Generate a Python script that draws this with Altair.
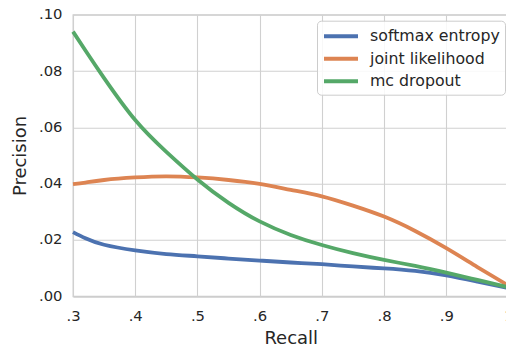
import altair as alt
import pandas as pd

# Recall sample points shared by all three curves
recall = [0.30, 0.32, 0.35, 0.40, 0.45, 0.50, 0.55, 0.60, 0.65, 0.70,
          0.75, 0.80, 0.85, 0.90, 0.95, 1.00]

softmax_entropy = [0.0228, 0.0206, 0.0183, 0.0163, 0.0150, 0.0142, 0.0134, 0.0127,
                   0.0120, 0.0114, 0.0106, 0.0099, 0.0090, 0.0074, 0.0052, 0.0029]
joint_likelihood = [0.0398, 0.0404, 0.0413, 0.0422, 0.0426, 0.0422, 0.0413, 0.0399,
                    0.0378, 0.0355, 0.0322, 0.0283, 0.0232, 0.0171, 0.0104, 0.0038]
mc_dropout = [0.0940, 0.0873, 0.0775, 0.0626, 0.0513, 0.0415, 0.0332, 0.0266,
              0.0218, 0.0182, 0.0153, 0.0129, 0.0108, 0.0084, 0.0058, 0.0032]

methods = ["softmax entropy", "joint likelihood", "mc dropout"]
colors = ["#4c72b0", "#dd8452", "#55a868"]

rows = []
for name, vals in zip(methods, [softmax_entropy, joint_likelihood, mc_dropout]):
    for r, p in zip(recall, vals):
        rows.append({"Recall": r, "Precision": p, "method": name})
df = pd.DataFrame(rows)

text_color = "#262626"
grid_color = "#d0d0d0"

chart = alt.Chart(df).mark_line(strokeWidth=3.8, interpolate="natural").encode(
    x=alt.X(
        "Recall:Q",
        scale=alt.Scale(domain=[0.3, 1.0], nice=False, zero=False),
        axis=alt.Axis(
            values=[0.3, 0.4, 0.5, 0.6, 0.7, 0.8, 0.9, 1.0],
            labelExpr="datum.value == 1 ? '1' : replace(format(datum.value, '.1f'), '0.', '.')",
            title="Recall",
        ),
    ),
    y=alt.Y(
        "Precision:Q",
        scale=alt.Scale(domain=[0.0, 0.1], nice=False),
        axis=alt.Axis(
            values=[0.0, 0.02, 0.04, 0.06, 0.08, 0.10],
            labelExpr="replace(format(datum.value, '.2f'), '0.', '.')",
            title="Precision",
        ),
    ),
    color=alt.Color(
        "method:N",
        scale=alt.Scale(domain=methods, range=colors),
        legend=alt.Legend(
            title=None,
            orient="none",
            legendX=244,
            legendY=6,
            # a long horizontal stroke starting at the entry's left edge
            symbolType="M-1,0L3,0",
            symbolSize=289,
            symbolStrokeWidth=4,
            labelFontSize=15.8,
            labelColor=text_color,
            labelFont="DejaVu Sans",
            labelOffset=27,
            fillColor="rgba(255,255,255,0.85)",
            strokeColor="#cccccc",
            cornerRadius=4,
            padding=5,
            rowPadding=3.5,
        ),
    ),
    order=alt.Order("method_order:Q"),
).transform_calculate(
    method_order="indexof(['softmax entropy','joint likelihood','mc dropout'], datum.method)"
).properties(
    width=435.5,
    height=281.6,
    autosize=alt.AutoSizeParams(type="none"),
    padding={"left": 73, "top": 14.7, "right": -2.5, "bottom": 48},
).configure_view(
    stroke="#cccccc",
    strokeWidth=1.3,
).configure_axis(
    grid=True,
    gridColor=grid_color,
    gridWidth=1.1,
    domain=False,
    ticks=False,
    labelFlush=False,
    labelFont="DejaVu Sans",
    labelFontSize=14.8,
    labelColor=text_color,
    titleFont="DejaVu Sans",
    titleFontSize=18,
    titleFontWeight="normal",
    titleColor=text_color,
).configure_axisX(
    labelPadding=12,
    titlePadding=6,
).configure_axisY(
    labelPadding=11,
    titlePadding=9,
)

chart.save("out.html", embed_options={"renderer": "svg", "actions": False})
